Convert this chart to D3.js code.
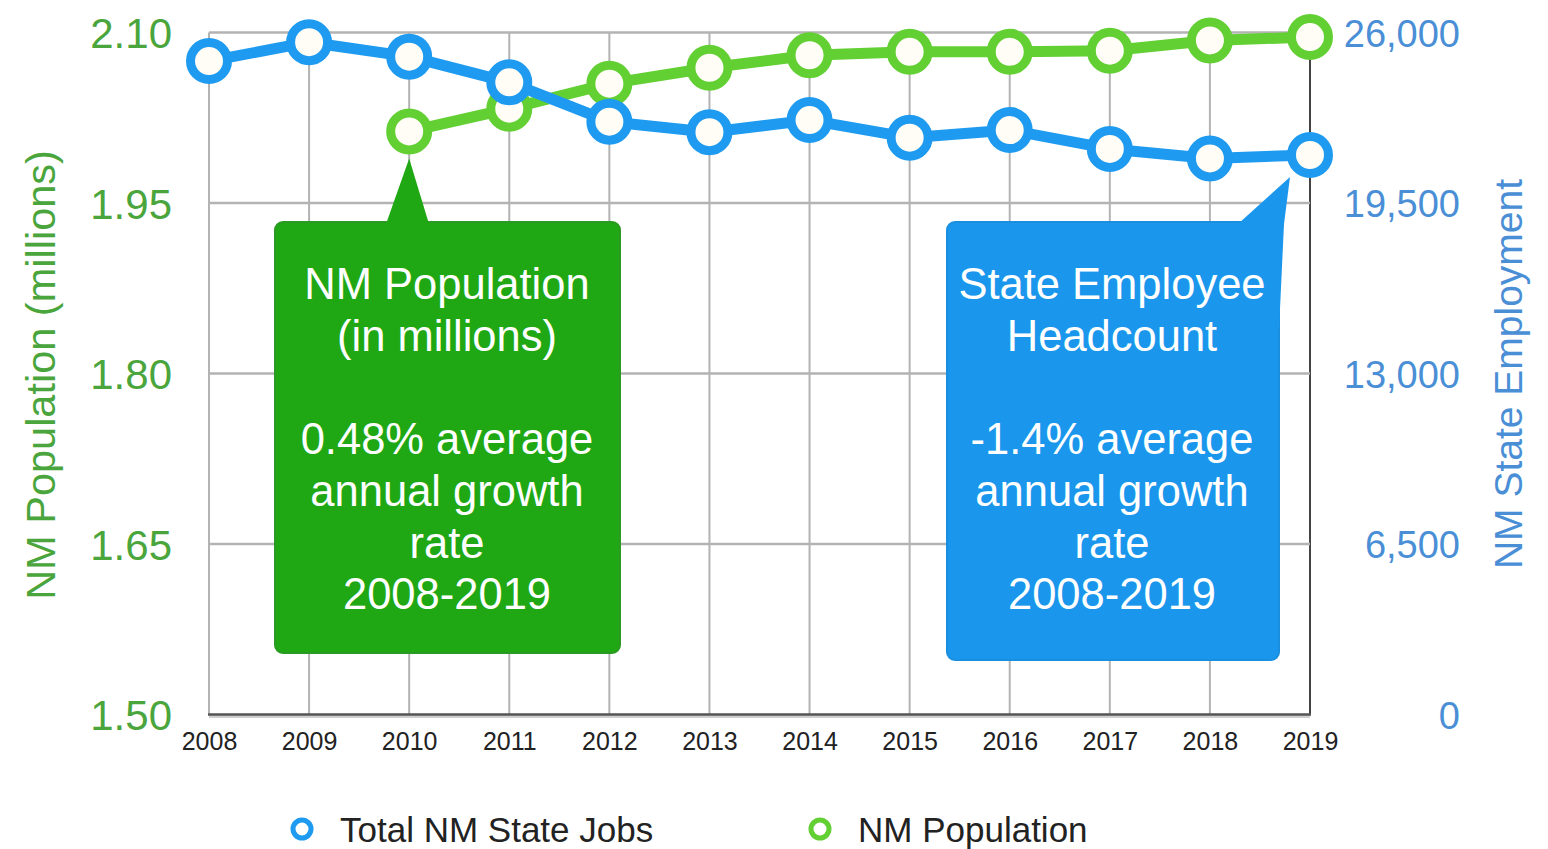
<!DOCTYPE html>
<html>
<head>
<meta charset="utf-8">
<script src="https://cdn.jsdelivr.net/npm/d3@7/dist/d3.min.js"></script>
<style>
  html, body { margin: 0; padding: 0; background: #fff; }
  svg { display: block; font-family: "Liberation Sans", Arial, Helvetica, sans-serif; }
</style>
</head>
<body>
<svg id="chart" width="1548" height="849"></svg>
<script>
// Years on the x axis
const years = [2008, 2009, 2010, 2011, 2012, 2013, 2014, 2015, 2016, 2017, 2018, 2019];
// Total NM state jobs (right axis)
const stateJobs = [24910, 25630, 25080, 24100, 22600, 22200, 22660, 21990, 22280, 21560, 21200, 21330];
// NM population in millions (left axis); no value for 2008-2009
const population = [null, null, 2.013, 2.033, 2.055, 2.069, 2.080, 2.083, 2.083, 2.084, 2.093, 2.096];
// Axis ticks
const popTicks = [1.50, 1.65, 1.80, 1.95, 2.10];
const jobTicks = [0, 6500, 13000, 19500, 26000];
// Callout texts
const popNote = ["NM Population", "(in millions)", "", "0.48% average", "annual growth", "rate", "2008-2019"];
const jobNote = ["State Employee", "Headcount", "", "-1.4% average", "annual growth", "rate", "2008-2019"];
const legendItems = ["Total NM State Jobs", "NM Population"];

const BLUE = "#1e9bf0", GREEN = "#62cf33";
const GREEN_TXT = "#4aa53c", BLUE_TXT = "#4a8fd6";

const svg = d3.select("#chart");
const plotL = 209, plotR = 1310, plotT = 32.5, plotB = 714.5;

const x = d3.scalePoint().domain(years).range([plotL, plotR]);
const yPop = d3.scaleLinear().domain([1.5, 2.1]).range([plotB, plotT]);
const yJobs = d3.scaleLinear().domain([0, 26000]).range([plotB, plotT]);

// Grid
const grid = svg.append("g");
grid.selectAll("line.v").data(years).join("line")
  .attr("x1", d => x(d)).attr("x2", d => x(d))
  .attr("y1", plotT).attr("y2", plotB)
  .attr("stroke", d => d === 2019 ? "#444" : "#b3b3b3").attr("stroke-width", 2);
grid.selectAll("line.h").data(popTicks.filter(d => d > 1.5)).join("line")
  .attr("x1", plotL).attr("x2", plotR)
  .attr("y1", d => yPop(d)).attr("y2", d => yPop(d))
  .attr("stroke", "#b3b3b3").attr("stroke-width", 2.5);
// baseline with soft shadow
grid.append("line").attr("x1", plotL).attr("x2", plotR).attr("y1", plotB + 2).attr("y2", plotB + 2)
  .attr("stroke", "#cfcfcf").attr("stroke-width", 3);
grid.append("line").attr("x1", plotL - 1).attr("x2", plotR + 1).attr("y1", plotB).attr("y2", plotB)
  .attr("stroke", "#555").attr("stroke-width", 2.5);

// X axis labels
const xAxis = d3.axisBottom(x).tickSize(0).tickPadding(18);
svg.append("g").attr("transform", `translate(0,${plotB})`).call(xAxis)
  .call(g => g.select(".domain").remove())
  .selectAll("text").attr("font-size", 25).attr("fill", "#222")
  .attr("font-family", "'Liberation Sans Narrow', 'Liberation Sans', Arial, sans-serif");

// Left axis labels
const yLeft = d3.axisLeft(yPop).tickValues(popTicks).tickFormat(d3.format(".2f")).tickSize(0).tickPadding(37);
svg.append("g").attr("transform", `translate(${plotL},0)`).call(yLeft)
  .call(g => g.select(".domain").remove())
  .selectAll("text").attr("font-size", 42).attr("fill", GREEN_TXT).attr("dy", "0.36em");

// Right axis labels (right-aligned)
const yRight = d3.axisRight(yJobs).tickValues(jobTicks).tickFormat(d3.format(",")).tickSize(0).tickPadding(150);
svg.append("g").attr("transform", `translate(${plotR},0)`).call(yRight)
  .call(g => g.select(".domain").remove())
  .selectAll("text").attr("font-size", 38).attr("fill", BLUE_TXT)
  .attr("text-anchor", "end").attr("dy", "0.36em");

// Axis titles
svg.append("text").attr("transform", `translate(55,375) rotate(-90)`)
  .attr("text-anchor", "middle").attr("font-size", 41.5).attr("fill", GREEN_TXT)
  .text("NM Population (millions)");
svg.append("text").attr("transform", `translate(1522,374) rotate(-90)`)
  .attr("text-anchor", "middle").attr("font-size", 39).attr("fill", BLUE_TXT)
  .text("NM State Employment");

// Callouts
function callout(lines, box, tail, fill, stroke, cx) {
  const g = svg.append("g");
  g.append("rect").attr("x", box[0]).attr("y", box[1]).attr("width", box[2]).attr("height", box[3])
    .attr("rx", 8).attr("fill", fill).attr("stroke", stroke).attr("stroke-width", 2);
  g.append("path").attr("d", d3.line()(tail) + "Z").attr("fill", fill);
  g.append("text").attr("text-anchor", "middle").attr("font-size", 43.5).attr("fill", "#fff")
    .selectAll("tspan").data(lines).join("tspan")
    .attr("x", cx).attr("y", (d, i) => box[1] + 77 + i * 51.7).text(d => d);
}
const popTip = [x(2010), yPop(population[2]) + 27];
callout(popNote, [275, 222, 345, 431],
  [[386, 224], popTip, [429, 224]], "#1fa814", "#2b9a22", 447);
const jobTip = [x(2019) - 20, yJobs(stateJobs[11]) + 22];
callout(jobNote, [947, 222, 332, 438],
  [[1238, 224], jobTip, [1284, 224], [1279, 330]], "#1a97ec", "#1a8fe0", 1112);

// Series
function series(values, y, color) {
  const g = svg.append("g");
  const pts = values.map((v, i) => ({ year: years[i], v })).filter(d => d.v != null);
  g.append("path").datum(pts)
    .attr("d", d3.line().x(d => x(d.year)).y(d => y(d.v)))
    .attr("fill", "none").attr("stroke", color).attr("stroke-width", 11).attr("stroke-linejoin", "round");
  g.selectAll("circle").data(pts).join("circle")
    .attr("cx", d => x(d.year)).attr("cy", d => y(d.v)).attr("r", 18.5)
    .attr("fill", "#fffdf6").attr("stroke", color).attr("stroke-width", 9);
}
series(population, yPop, GREEN);
series(stateJobs, yJobs, BLUE);

// Legend
const legend = svg.append("g");
const legX = [302, 820], legColors = [BLUE, GREEN];
legendItems.forEach((t, i) => {
  legend.append("circle").attr("cx", legX[i]).attr("cy", 829).attr("r", 9)
    .attr("fill", "#fff").attr("stroke", legColors[i]).attr("stroke-width", 5);
  legend.append("text").attr("x", legX[i] + 38).attr("y", 842)
    .attr("font-size", 35).attr("fill", "#222").text(t);
});
</script>
</body>
</html>
